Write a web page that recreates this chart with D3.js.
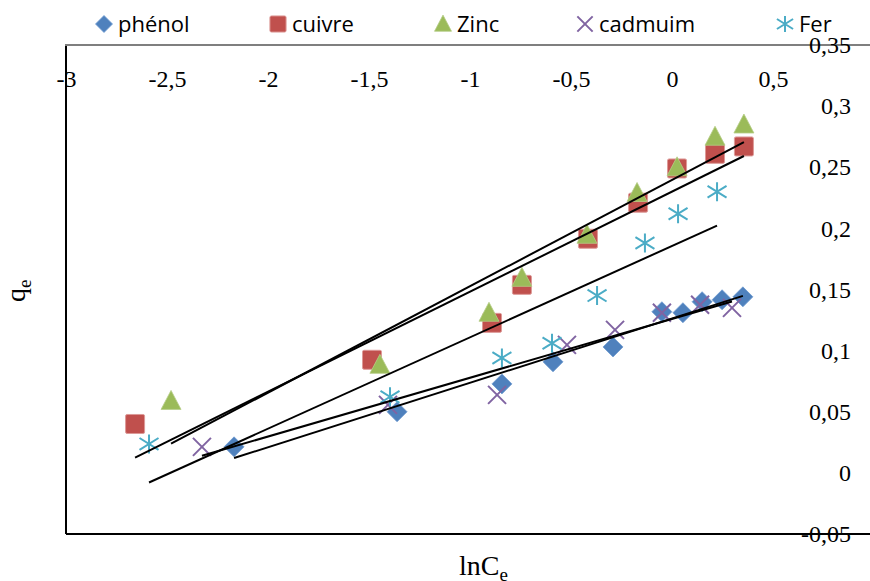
<!DOCTYPE html>
<html>
<head>
<meta charset="utf-8">
<script src="https://cdn.jsdelivr.net/npm/d3@7"></script>
<style>
  html, body { margin: 0; padding: 0; background: #fff; }
  svg { display: block; }
  .serif { font-family: "Liberation Serif", "Times New Roman", "DejaVu Serif", serif; }
  .sans { font-family: "Open Sans", "Noto Sans", sans-serif; }
</style>
</head>
<body>
<svg id="chart" width="870" height="581"></svg>
<script>
// Adsorption isotherm data: qe versus lnCe for each solute
const phenolX = [-2.168, -1.361, -0.842, -0.589, -0.292, -0.050, 0.054, 0.149, 0.248, 0.351];
const phenolY = [0.0213, 0.050, 0.0728, 0.0908, 0.103, 0.1318, 0.131, 0.140, 0.1416, 0.144];

const cuivreX = [-2.658, -1.485, -0.891, -0.743, -0.416, -0.168, 0.025, 0.213, 0.356];
const cuivreY = [0.040, 0.0925, 0.1227, 0.1538, 0.1915, 0.221, 0.249, 0.261, 0.267];

const zincX = [-2.480, -1.446, -0.906, -0.743, -0.421, -0.173, 0.025, 0.213, 0.356];
const zincY = [0.0589, 0.0884, 0.131, 0.1596, 0.1948, 0.229, 0.250, 0.275, 0.285];

const cadmiumX = [-2.327, -1.406, -0.866, -0.520, -0.282, -0.050, 0.139, 0.297];
const cadmiumY = [0.0213, 0.0556, 0.0638, 0.1047, 0.117, 0.131, 0.1375, 0.135];

const ferX = [-2.589, -1.396, -0.842, -0.594, -0.371, -0.134, 0.030, 0.223];
const ferY = [0.0237, 0.0622, 0.094, 0.106, 0.145, 0.188, 0.212, 0.230];

const seriesNames = ["phénol", "cuivre", "Zinc", "cadmuim", "Fer"];
const seriesColors = ["#4F81BD", "#C0504D", "#9BBB59", "#8064A2", "#4BACC6"];
const seriesShapes = ["diamond", "square", "triangle", "cross", "star"];

const xTickValues = [-3, -2.5, -2, -1.5, -1, -0.5, 0, 0.5];
const xTickLabels = ["-3", "-2,5", "-2", "-1,5", "-1", "-0,5", "0", "0,5"];
const yTickValues = [-0.05, 0, 0.05, 0.1, 0.15, 0.2, 0.25, 0.3, 0.35];
const yTickLabels = ["-0,05", "0", "0,05", "0,1", "0,15", "0,2", "0,25", "0,3", "0,35"];

const series = [
  { xs: phenolX, ys: phenolY },
  { xs: cuivreX, ys: cuivreY },
  { xs: zincX, ys: zincY },
  { xs: cadmiumX, ys: cadmiumY },
  { xs: ferX, ys: ferY }
].map((s, i) => ({
  name: seriesNames[i],
  color: seriesColors[i],
  shape: seriesShapes[i],
  points: s.xs.map((x, j) => ({ x, y: s.ys[j] }))
}));

const svg = d3.select("#chart");
const plot = { left: 66, top: 45, right: 874, bottom: 534 };

const x = d3.scaleLinear().domain([-3, 1]).range([plot.left, plot.right]);
const y = d3.scaleLinear().domain([-0.05, 0.35]).range([plot.bottom, plot.top]);

// Marker drawing
function drawMarker(g, shape, color, size) {
  const h = size / 2;
  if (shape === "diamond") {
    g.append("path")
      .attr("d", `M0,${-h}L${h},0L0,${h}L${-h},0Z`)
      .attr("fill", color).attr("stroke", "#6f9bd1").attr("stroke-width", 0.8);
  } else if (shape === "square") {
    const s = size * 0.95;
    g.append("rect")
      .attr("x", -s / 2).attr("y", -s / 2).attr("width", s).attr("height", s)
      .attr("rx", 1.5)
      .attr("fill", color).attr("stroke", "#dd9a98").attr("stroke-width", 1);
  } else if (shape === "triangle") {
    const th = size * 0.95;
    g.append("path")
      .attr("d", `M0,${-th * 0.55}L${h},${th * 0.45}L${-h},${th * 0.45}Z`)
      .attr("fill", color).attr("stroke", "#b5cd86").attr("stroke-width", 0.8);
  } else if (shape === "cross") {
    const c = h * 0.9;
    g.append("path")
      .attr("d", `M${-c},${-c}L${c},${c}M${-c},${c}L${c},${-c}`)
      .attr("stroke", color).attr("stroke-width", 2).attr("fill", "none");
  } else if (shape === "star") {
    const c = h * 0.95;
    g.append("path")
      .attr("d", `M0,${-c}L0,${c}M${-c},${-c * 0.62}L${c},${c * 0.62}M${-c},${c * 0.62}L${c},${-c * 0.62}`)
      .attr("stroke", color).attr("stroke-width", 2).attr("fill", "none");
  }
}

// Plot frame: left and bottom borders, category axis line along the top
svg.append("line")
  .attr("x1", plot.left).attr("x2", plot.left)
  .attr("y1", plot.top).attr("y2", plot.bottom)
  .attr("stroke", "#000").attr("stroke-width", 2);
svg.append("line")
  .attr("x1", plot.left).attr("x2", plot.right)
  .attr("y1", plot.bottom).attr("y2", plot.bottom)
  .attr("stroke", "#000").attr("stroke-width", 2);
svg.append("line")
  .attr("x1", plot.left - 1).attr("x2", plot.right)
  .attr("y1", plot.top).attr("y2", plot.top)
  .attr("stroke", "#7f7f7f").attr("stroke-width", 2);

// Horizontal axis labels, sitting just under the top line
const xAxis = d3.axisBottom(x)
  .tickValues(xTickValues)
  .tickSize(0)
  .tickPadding(25)
  .tickFormat((d, i) => xTickLabels[i]);
const gx = svg.append("g").attr("transform", `translate(0,${plot.top})`).call(xAxis);
gx.select(".domain").remove();
gx.attr("font-family", null).attr("font-size", null);
gx.selectAll("text")
  .attr("class", "serif")
  .style("font-size", "24px").attr("fill", "#000");

// Vertical axis labels on the right
const yAxis = d3.axisLeft(y)
  .tickValues(yTickValues)
  .tickSize(0)
  .tickPadding(23)
  .tickFormat((d, i) => yTickLabels[i]);
const gy = svg.append("g").attr("transform", `translate(${plot.right},0)`).call(yAxis);
gy.select(".domain").remove();
gy.attr("font-family", null).attr("font-size", null);
gy.selectAll("text")
  .attr("class", "serif")
  .style("font-size", "24px").attr("fill", "#000");

// Data markers
series.forEach(s => {
  const g = svg.append("g").attr("class", "series");
  s.points.forEach(p => {
    const m = g.append("g").attr("transform", `translate(${x(p.x)},${y(p.y)})`);
    drawMarker(m, s.shape, s.color, 20);
  });
});

// Least-squares trend line for each series, spanning its x range
function linearFit(points) {
  const mx = d3.mean(points, p => p.x);
  const my = d3.mean(points, p => p.y);
  const sxy = d3.sum(points, p => (p.x - mx) * (p.y - my));
  const sxx = d3.sum(points, p => (p.x - mx) * (p.x - mx));
  const slope = sxy / sxx;
  return { slope, intercept: my - slope * mx };
}
series.forEach(s => {
  const fit = linearFit(s.points);
  const [x0, x1] = d3.extent(s.points, p => p.x);
  svg.append("line")
    .attr("x1", x(x0)).attr("y1", y(fit.intercept + fit.slope * x0))
    .attr("x2", x(x1)).attr("y2", y(fit.intercept + fit.slope * x1))
    .attr("stroke", "#000").attr("stroke-width", 2);
});

// Legend across the top
const legendMarkerX = [104, 278, 443, 585, 785];
const legend = svg.append("g").attr("class", "legend");
series.forEach((s, i) => {
  const m = legend.append("g").attr("transform", `translate(${legendMarkerX[i]},24)`);
  drawMarker(m, s.shape, s.color, 17);
  legend.append("text")
    .attr("class", "sans")
    .attr("x", legendMarkerX[i] + 14).attr("y", 32)
    .style("font-size", "22px").attr("fill", "#000")
    .text(s.name);
});

// Axis titles
const yTitle = svg.append("text")
  .attr("class", "serif")
  .attr("transform", "translate(25,302) rotate(-90)")
  .style("font-size", "28px").attr("fill", "#000");
yTitle.append("tspan").text("q");
yTitle.append("tspan").style("font-size", "19px").attr("dy", 6).text("e");

const xTitle = svg.append("text")
  .attr("class", "serif")
  .attr("x", 459).attr("y", 575)
  .style("font-size", "28px").attr("fill", "#000");
xTitle.append("tspan").text("lnC");
xTitle.append("tspan").style("font-size", "19px").attr("dy", 6).text("e");
</script>
</body>
</html>
